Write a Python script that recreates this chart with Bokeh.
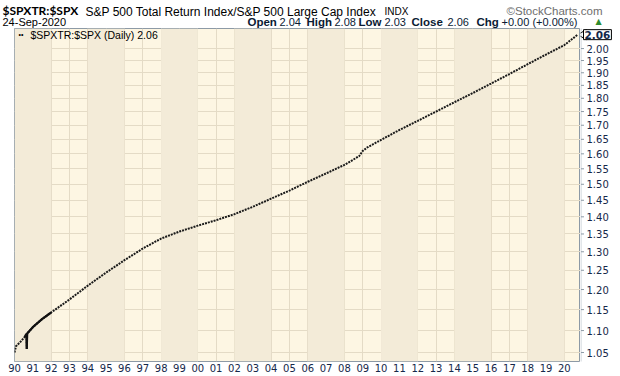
import math
from bokeh.plotting import figure
from bokeh.layouts import column, row
from bokeh.models import FixedTicker, BoxAnnotation, Label, Range1d, Span
from bokeh.core.properties import value
from bokeh.embed import file_html
from bokeh.resources import INLINE

# ---- data ----
dates = [1990.00, 1990.08, 1990.30, 1990.55, 1990.65, 1990.67, 1990.69, 1991.00, 1991.50,
         1992.00, 1993.00, 1994.00, 1995.00, 1996.00, 1997.00, 1998.00, 1999.00, 2000.00,
         2001.00, 2002.00, 2003.00, 2004.00, 2005.00, 2006.00, 2007.00, 2008.00, 2008.80,
         2009.00, 2009.25, 2010.00, 2011.00, 2012.00, 2013.00, 2014.00, 2015.00, 2016.00,
         2017.00, 2018.00, 2019.00, 2020.00, 2020.73]
ratio = [1.050, 1.064, 1.073, 1.085, 1.092, 1.058, 1.093, 1.108, 1.127,
         1.143, 1.175, 1.210, 1.244, 1.277, 1.309, 1.337, 1.357, 1.374,
         1.390, 1.408, 1.430, 1.455, 1.480, 1.508, 1.535, 1.563, 1.592,
         1.610, 1.622, 1.648, 1.683, 1.716, 1.750, 1.785, 1.820, 1.857,
         1.895, 1.935, 1.975, 2.015, 2.060]
dense_from, dense_to = 3, 10   # stretch drawn as a solid, noisy-looking line

year_ticks = list(range(1990, 2021))
year_labels = [f"{y % 100:02d}" for y in year_ticks]
price_ticks = [round(1.05 + 0.05 * i, 2) for i in range(20)]
price_labels = [f"{v:.2f}" for v in price_ticks]
band_starts = list(range(1990, 2020, 4))
band_width = 2

title_sym = "$SPXTR:$SPX"
title_name = "S&P 500 Total Return Index/S&P 500 Large Cap Index"
title_exch = "INDX"
date_text = "24-Sep-2020"
ohlc = [("Open", "2.04"), ("High", "2.08"), ("Low", "2.03"), ("Close", "2.06"), ("Chg", "+0.00 (+0.00%)")]
last_value = 2.06

LIGHT = "#FDF6E3"
DARK = "#F3EBD8"
GRID = "#E4DBC6"
NAVY = "#15284A"
AXIS = "#8D9AA6"
FONT = "Liberation Sans"

y_range = Range1d(1.0302, 2.087)


def lab(fig, x, y, text, size="11px", bold=False, color="black", font=FONT, **kw):
    fig.add_layout(Label(x=x, y=y, x_units="canvas", y_units="canvas", text=text,
                         text_font=font, text_font_size=size,
                         text_font_style="bold" if bold else "normal",
                         text_color=color, text_align="left", text_baseline="middle", **kw))


# ---------------- header strip ----------------
h = figure(width=620, height=28, output_backend="svg", toolbar_location=None,
           x_range=Range1d(0, 620), y_range=Range1d(28, 0),
           x_axis_location=None, y_axis_location=None, min_border=0)
h.outline_line_color = None
h.grid.visible = False
h.background_fill_color = "white"
h.border_fill_color = "white"

lab(h, 2, 10, title_sym, size="12px", bold=True, font="Lato")
lab(h, 85, 11, title_name, size="12px")
lab(h, 384, 11, title_exch, size="10px")
lab(h, 506, 10, "\u00a9StockCharts.com", size="11.5px", color="#6E6E6E")
lab(h, 2, 21, date_text, size="11px")
for (k, v), x0 in zip(ohlc, [247, 306, 358, 411, 476]):
    lab(h, x0, 21, k, size="11.5px", bold=True, color="#0A1A33")
for (k, v), x0 in zip(ohlc, [279, 334, 384, 447, 501]):
    lab(h, x0, 21, v, size="11px", color="#0A1A33")
lab(h, 595, 21, "\u25B2", size="8px", color="#2E8B2E", font="DejaVu Sans")

# ---------------- main chart ----------------
p = figure(width=580, height=348, output_backend="svg", toolbar_location=None,
           x_range=Range1d(1990.0, 2020.88), y_range=y_range,
           y_axis_type="log", y_axis_location=None,
           min_border_left=14, min_border_right=0, min_border_top=0, min_border_bottom=15)
p.background_fill_color = LIGHT
p.border_fill_color = "white"
p.outline_line_color = AXIS

for b in band_starts:
    p.add_layout(BoxAnnotation(left=b, right=b + band_width, fill_color=DARK, fill_alpha=1.0,
                               line_alpha=0, level="underlay"))

p.xaxis.ticker = FixedTicker(ticks=year_ticks)
p.xaxis.major_label_overrides = {t: l for t, l in zip(year_ticks, year_labels)}
p.xaxis.major_label_text_font = "DejaVu Sans"
p.xaxis.major_label_text_font_size = "10px"
p.xaxis.major_label_text_color = NAVY
p.xaxis.minor_tick_line_color = None
p.xaxis.minor_tick_out = 0
p.xaxis.axis_line_color = None
p.xaxis.major_tick_line_color = None
p.xaxis.major_tick_out = 0
p.xaxis.major_tick_in = 0
p.xaxis.major_label_standoff = 2

p.xgrid.ticker = FixedTicker(ticks=year_ticks)
p.ygrid.ticker = FixedTicker(ticks=price_ticks)
p.grid.grid_line_color = GRID
p.grid.grid_line_width = 1

p.line(dates, ratio, line_color="#1A1A1A", line_width=2, line_dash="2 1")
p.line(dates[dense_from:dense_to], ratio[dense_from:dense_to], line_color="#111111", line_width=2.2)

lab(p, 18, 6, "\u2022\u2022", size="7px")
lab(p, 30, 6, title_sym + " (Daily) " + f"{last_value:.2f}", size="10.5px")

# ---------------- right price scale ----------------
r = figure(width=40, height=348, output_backend="svg", toolbar_location=None,
           x_range=Range1d(0, 40), y_range=y_range, y_axis_type="log",
           x_axis_location=None, y_axis_location=None,
           min_border_left=0, min_border_right=0, min_border_top=0, min_border_bottom=15)
r.outline_line_color = None
r.grid.visible = False
r.background_fill_color = "white"
r.border_fill_color = "white"
r.add_layout(Span(location=0.5, dimension="height", line_color=AXIS, line_dash="1 1", line_width=1))
r.dash(x=[2] * len(price_ticks), y=price_ticks, size=3, line_color=AXIS, line_width=1)
r.text(x=[6] * len(price_ticks), y=price_ticks, text=price_labels,
       text_font=value("DejaVu Sans"), text_font_size="10px", text_color=NAVY,
       text_baseline="middle", text_align="left")
r.scatter(x=[3], y=[last_value], marker="triangle", angle=math.pi / 2, size=10,
          fill_color="white", line_color="black", line_width=1)
r.add_layout(Label(x=3, y=last_value, x_units="data", y_units="data",
                   text=f"{last_value:.2f}", text_font="DejaVu Sans", text_font_size="10.5px",
                   text_font_style="bold", text_color=NAVY, text_baseline="middle",
                   border_line_color="black", border_line_width=1,
                   background_fill_color="white", padding=1))

layout = column(h, row(p, r, spacing=0), spacing=0)
open("out.html", "w").write(file_html(layout, INLINE))
